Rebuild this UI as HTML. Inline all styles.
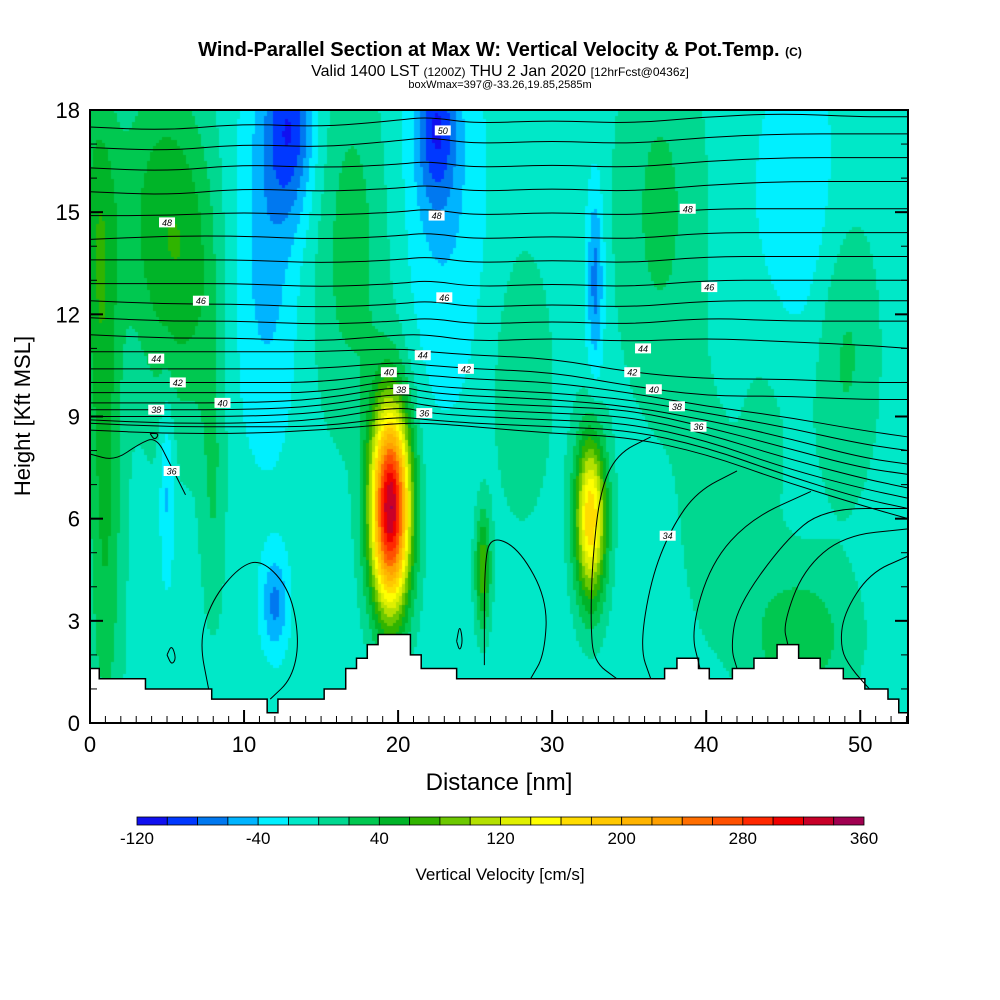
<!DOCTYPE html>
<html><head><meta charset="utf-8">
<style>
body{margin:0;background:#fff;width:1000px;height:1000px;overflow:hidden;font-family:"Liberation Sans",sans-serif}
#wrap{position:relative;width:1000px;height:1000px}
canvas{position:absolute;left:90px;top:110px}
svg{position:absolute;left:0;top:0}
</style></head>
<body><div id="wrap">
<canvas id="hm" width="818" height="613"></canvas>
<svg id="sv" width="1000" height="1000">
<text x="500" y="56" text-anchor="middle" font-size="20" font-weight="bold">Wind-Parallel Section at Max W: Vertical Velocity &amp; Pot.Temp. <tspan font-size="12">(C)</tspan></text>
<text x="500" y="76" text-anchor="middle" font-size="16">Valid 1400 LST <tspan font-size="12">(1200Z)</tspan> THU 2 Jan 2020 <tspan font-size="12">[12hrFcst@0436z]</tspan></text>
<text x="500" y="88" text-anchor="middle" font-size="11">boxWmax=397@-33.26,19.85,2585m</text>
<g id="terrain"></g><g id="contours" fill="none" stroke="#000" stroke-width="1"></g><g id="clabels"></g>
<rect x="90" y="110" width="818" height="613" fill="none" stroke="#000" stroke-width="2"/>
<g id="axes"></g>
<text x="30" y="416" text-anchor="middle" font-size="22" transform="rotate(-90 30 416)">Height [Kft MSL]</text>
<text x="499" y="790" text-anchor="middle" font-size="24">Distance [nm]</text>
<g id="cbar"></g>
<text x="500" y="880" text-anchor="middle" font-size="17">Vertical Velocity [cm/s]</text>
</svg></div>
<script>
const palette=["#1010f0","#0038ff","#0078f0","#00b4ff","#00f0ff","#00e8c8","#00d890","#00c850","#00b428","#30b400","#6cc800","#b4e000","#e0f000","#ffff00","#ffdc00","#ffc800","#ffb400","#ffa000","#ff6e00","#ff5000","#ff2800","#f00000","#c80028","#a00050"];
const cbTicks=[-120,-40,40,120,200,280,360];
const blobX=[19.5,32.5,25.5,1,5,8,3,13,22.5,32.8,11.5,23,46,5,12,37,49,46,17,28,40,44,0.5,7,17];
const blobZ=[6.3,6,4.5,6,14,7,15,17.5,17.5,13,14,15,15,7,3.5,15,11,2.5,12,10,6,9,14,13,16];
const blobSX=[0.9,0.7,0.35,0.8,1.5,0.6,3,1.1,0.9,0.4,1.5,2,2,0.35,0.6,2,1.5,2.5,2,1.5,1.5,1.5,0.8,1.2,1.5];
const blobSZ=[2.1,1.7,1.2,5,4,3,3,1.8,1.6,2,4,4,3,2,1,4,3,1.5,3,3,3,3,4,3,3];
const blobAmp=[350,190,85,50,40,30,30,-75,-70,-60,-40,-30,-30,-40,-55,35,35,45,25,25,15,15,40,30,25];
const baseW=-10;
const terrX=[0,0.6,3.6,7.9,11.5,12.2,15.2,16.6,17.3,18.0,18.7,20.8,21.5,23.8,37.3,38.1,39.5,40.2,41.7,43.1,44.6,46.0,47.4,48.9,50.3,51.8,52.5];
const terrZ=[1.6,1.3,1.0,0.7,0.3,0.7,1.0,1.6,1.9,2.3,2.6,2.0,1.6,1.3,1.6,1.9,1.6,1.3,1.6,1.9,2.3,1.9,1.6,1.3,1.0,0.7,0.3];
const nodeX=[0,5,10,15,20,22,25,30,35,40,45,50,53.1];
const thetaLines=[
[17.5,17.4,17.6,17.5,17.7,17.8,17.6,17.7,17.6,17.8,17.9,17.8,17.8],
[16.9,16.8,17.0,16.9,17.1,17.2,17.0,17.1,17.0,17.2,17.3,17.3,17.3],
[16.3,16.2,16.4,16.3,16.4,16.5,16.3,16.4,16.3,16.5,16.6,16.6,16.6],
[15.6,15.5,15.7,15.6,15.7,15.8,15.6,15.7,15.6,15.8,15.9,15.9,15.9],
[14.9,14.9,15.0,14.9,15.0,15.1,14.9,15.0,14.9,15.1,15.1,15.1,15.1],
[14.2,14.3,14.3,14.2,14.3,14.4,14.2,14.3,14.2,14.4,14.4,14.4,14.4],
[13.6,13.6,13.6,13.5,13.6,13.7,13.5,13.6,13.5,13.7,13.7,13.7,13.7],
[12.9,12.9,12.9,12.8,12.9,13.0,12.8,12.9,12.8,13.0,13.0,13.0,13.0],
[12.4,12.3,12.3,12.2,12.3,12.4,12.2,12.3,12.2,12.4,12.4,12.4,12.4],
[11.9,11.8,11.8,11.7,11.8,11.9,11.7,11.8,11.7,11.9,11.8,11.8,11.8],
[11.4,11.3,11.3,11.2,11.4,11.4,11.2,11.3,11.2,11.3,11.2,11.1,11.0],
[10.9,10.9,10.9,10.9,11.0,10.9,10.8,10.7,10.3,10.1,10.1,10.0,10.0],
[10.4,10.4,10.4,10.4,10.6,10.5,10.4,10.3,9.9,9.6,9.6,9.5,9.5],
[10.0,10.0,10.0,10.0,10.3,10.2,10.1,10.0,9.7,9.3,9.0,8.6,8.4],
[9.7,9.7,9.7,9.7,10.1,9.9,9.8,9.7,9.5,9.1,8.7,8.2,8.0],
[9.4,9.4,9.4,9.5,9.9,9.7,9.6,9.5,9.3,8.9,8.4,7.8,7.6],
[9.2,9.2,9.2,9.3,9.7,9.5,9.4,9.3,9.2,8.7,8.1,7.5,7.3],
[9.0,9.0,9.0,9.1,9.5,9.3,9.2,9.1,9.0,8.5,7.8,7.2,6.9],
[8.9,8.8,8.8,8.9,9.3,9.1,9.0,8.9,8.8,8.3,7.5,6.9,6.6],
[8.8,8.7,8.7,8.7,9.0,8.9,8.8,8.7,8.6,8.1,7.3,6.6,6.3],
[8.6,8.5,8.5,8.6,8.8,8.8,8.7,8.5,8.4,7.9,7.1,6.4,6.0]];
const arcs=[
[[36.4,8.4],[34.2,7.9],[33.1,6.8],[32.6,4.7],[32.5,2.9],[32.7,1.8],[34.2,1.3]],
[[42.0,7.4],[39.4,6.8],[37.7,5.7],[36.4,4.2],[35.7,2.2],[36.4,1.3]],
[[46.8,6.8],[42.9,6.0],[40.3,4.7],[39.0,2.7],[39.6,1.6]],
[[53.1,6.3],[47.6,6.3],[45.0,5.3],[42.0,3.4],[41.6,2.2],[42.0,1.6]],
[[53.1,5.7],[48.9,5.5],[46.3,4.5],[45.0,2.9],[45.3,2.3]],
[[53.1,4.9],[50.6,4.4],[48.9,3.2],[48.7,2.2],[49.4,1.6],[50.6,1.0]],
[[7.7,1.0],[7.1,2.4],[7.9,3.6],[9.7,4.6],[11.2,4.8],[13.0,3.9],[13.6,2.4],[13.1,1.3],[11.7,0.7]],
[[5.0,2.0],[5.3,2.3],[5.6,1.9],[5.3,1.7],[5.0,2.0]],
[[23.8,2.4],[24.0,2.9],[24.2,2.4],[24.0,2.1],[23.8,2.4]],
[[25.6,1.7],[25.6,4.8],[26.1,5.5],[27.9,5.1],[29.7,3.6],[29.5,2.0],[28.6,1.3]],
[[0,7.9],[1.6,7.7],[3.2,8.2],[4.3,8.4],[5.2,7.6],[6.2,6.7]],
[[3.9,8.5],[4.5,8.5],[4.2,8.3],[3.9,8.5]]];
const labX=[22.9,5.0,22.5,38.8,7.2,23.0,40.2,4.3,21.6,35.9,5.7,24.4,35.2,8.6,19.4,36.6,4.3,20.2,38.1,21.7,39.5,5.3,37.5];
const labZ=[17.4,14.7,14.9,15.1,12.4,12.5,12.8,10.7,10.8,11.0,10.0,10.4,10.3,9.4,10.3,9.8,9.2,9.8,9.3,9.1,8.7,7.4,5.5];
const labT=["50","48","48","48","46","46","46","44","44","44","42","42","42","40","40","40","38","38","38","36","36","36","34"];
const xTicks=[0,10,20,30,40,50];
const yTicks=[0,3,6,9,12,15,18];

const X0=90,X1=908,Y0=723,Y1=110,XMAX=53.1,ZMAX=18;
const sx=v=>X0+v/XMAX*(X1-X0), sy=v=>Y0-v/ZMAX*(Y0-Y1);
const NS="http://www.w3.org/2000/svg";
function mk(tag,attrs,parent){const e=document.createElementNS(NS,tag);for(const k in attrs)e.setAttribute(k,attrs[k]);parent.appendChild(e);return e;}

const ctx=document.getElementById('hm').getContext('2d');
const cell=3;
for(let py=0;py<613;py+=cell){for(let px=0;px<818;px+=cell){
 const x=(px+cell/2)/818*XMAX, z=(613-py-cell/2)/613*ZMAX;
 let w=baseW;
 for(let i=0;i<blobX.length;i++){const dx=(x-blobX[i])/blobSX[i],dz=(z-blobZ[i])/blobSZ[i];w+=blobAmp[i]*Math.exp(-0.5*(dx*dx+dz*dz));}
 let b=Math.floor((w+120)/20);b=Math.max(0,Math.min(23,b));
 ctx.fillStyle=palette[b];ctx.fillRect(px,py,cell,cell);
}}

const tg=document.getElementById('terrain');
let d=`M${sx(0)},${sy(0)}`;
for(let i=0;i<terrX.length;i++){const xe=i+1<terrX.length?terrX[i+1]:XMAX;d+=` L${sx(terrX[i])},${sy(terrZ[i])} L${sx(xe)},${sy(terrZ[i])}`;}
d+=` L${sx(XMAX)},${sy(0)} Z`;
const tp=mk('path',{d:d,fill:'#fff',stroke:'#000','stroke-width':1.5},tg);



const cg=document.getElementById('contours');
function smooth(pts){let s=`M${pts[0][0]},${pts[0][1]}`;for(let i=1;i<pts.length;i++){const p0=pts[i-1],p1=pts[i];const mx=(p0[0]+p1[0])/2,my=(p0[1]+p1[1])/2;s+=` Q${p0[0]},${p0[1]} ${mx},${my}`;}const l=pts[pts.length-1];return s+` L${l[0]},${l[1]}`;}
thetaLines.forEach((ln,k)=>{const pts=ln.map((z,i)=>[sx(nodeX[i]),sy(z)]);
 const p=mk('path',{d:smooth(pts)},cg);
 
 });
arcs.forEach(a=>{const pts=a.map(q=>[sx(q[0]),sy(q[1])]);
 const p=mk('path',{d:smooth(pts)},cg);
 
 });
const lg=document.getElementById('clabels');
labT.forEach((t,i)=>{const x=sx(labX[i]),y=sy(labZ[i]);
 const r=mk('rect',{x:x-8,y:y-5,width:16,height:10,fill:'#fff'},lg);
 
 
 const tx=mk('text',{x:x,y:y+3.5,'text-anchor':'middle','font-size':9,'font-style':'italic'},lg);tx.textContent=t;
 
 });

const ag=document.getElementById('axes');
for(let v=0;v<=53;v++){const x=sx(v);const big=v%10===0;
 const t=mk('line',{x1:x,x2:x,y1:Y0,y2:Y0-(big?13:7),stroke:'#000','stroke-width':big?2:1},ag);
 
 }
for(let v=0;v<=18;v++){const y=sy(v);const big=v%3===0;
 const t=mk('line',{x1:X0,x2:X0+(big?13:7),y1:y,y2:y,stroke:'#000','stroke-width':big?2:1},ag);
 
 
 const t2=mk('line',{x1:X1,x2:X1-(big?13:7),y1:y,y2:y,stroke:'#000','stroke-width':big?2:1},ag);
 
 }
xTicks.forEach(v=>{const t=mk('text',{x:sx(v),y:752,'text-anchor':'middle','font-size':22},ag);t.textContent=v;
 
 });
yTicks.forEach(v=>{const t=mk('text',{x:80,y:sy(v)+8,'text-anchor':'end','font-size':22},ag);t.textContent=v;
 
 });

const cb=document.getElementById('cbar');const CB0=137,CB1=864,cw=(CB1-CB0)/24;
palette.forEach((c,i)=>{const r=mk('rect',{x:CB0+i*cw,y:817,width:cw,height:8,fill:c,stroke:'#000','stroke-width':0.8},cb);
 
 });
cbTicks.forEach(v=>{const t=mk('text',{x:CB0+(v+120)/480*(CB1-CB0),y:844,'text-anchor':'middle','font-size':17},cb);t.textContent=v;
 
 });
</script></body></html>
